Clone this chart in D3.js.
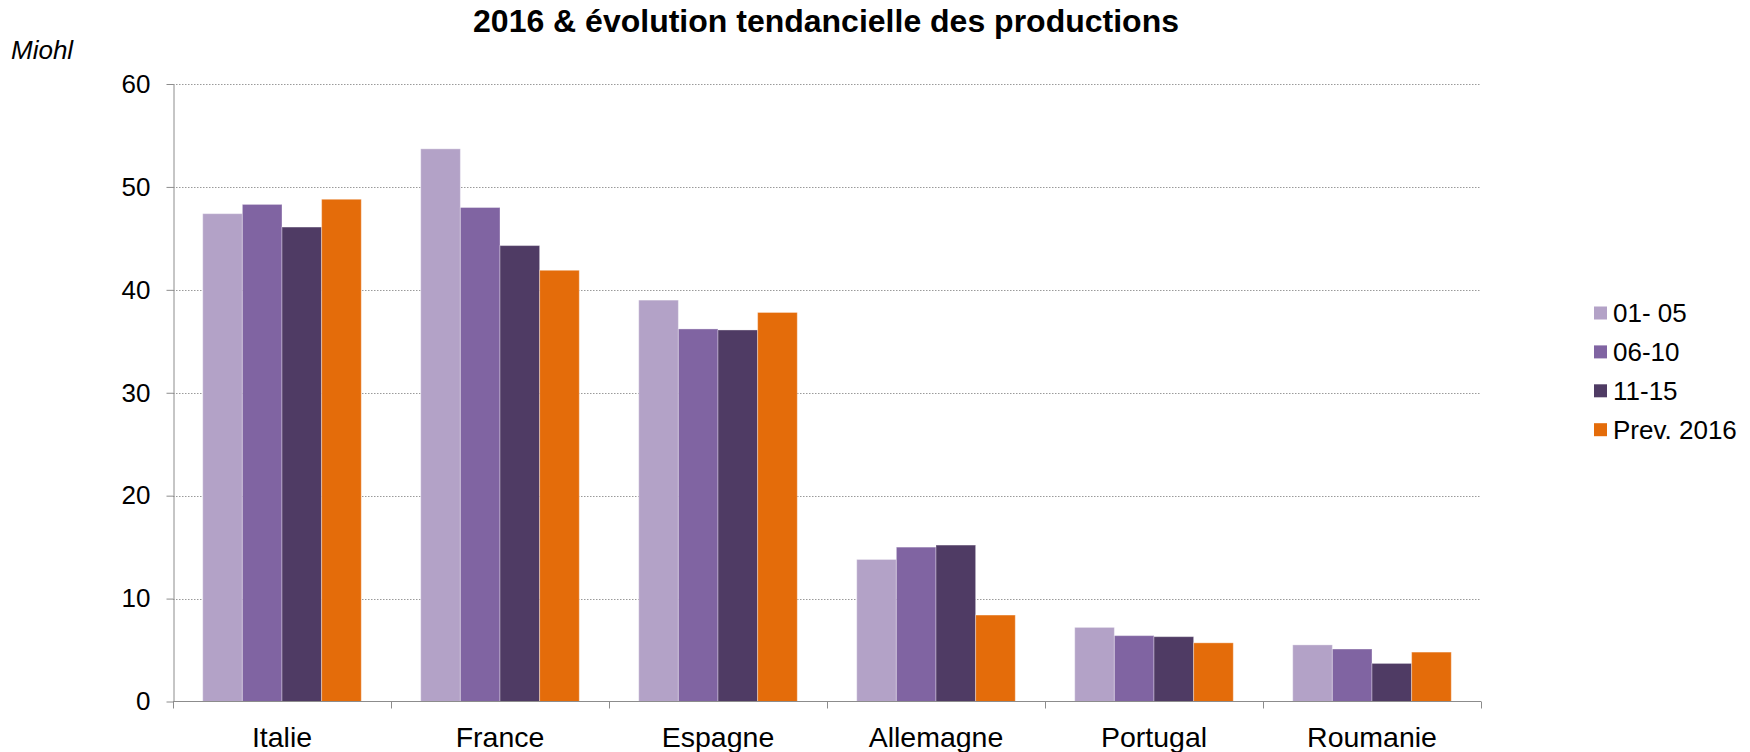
<!DOCTYPE html>
<html>
<head>
<meta charset="utf-8">
<script src="https://cdn.jsdelivr.net/npm/d3@7"></script>
<style>
  body { margin: 0; background: #fff; }
  text { font-family: "Liberation Sans", Arial, sans-serif; fill: #000; }
  .grid line { stroke: #9a9a9a; stroke-dasharray: 1.5,1.5; }
  .axis path, .axis line { stroke: #8c8c8c; }
</style>
</head>
<body>
<div id="graphic"></div>
<script>
const width = 1750;
const height = 752;

// data
const countries = ['Italie', 'France', 'Espagne', 'Allemagne', 'Portugal', 'Roumanie'];
const seriesNames = ['01- 05', '06-10', '11-15', 'Prev. 2016'];
const s0105 = [47.4, 53.7, 39.0, 13.8, 7.2, 5.5];
const s0610 = [48.3, 48.0, 36.2, 15.0, 6.4, 5.1];
const s1115 = [46.1, 44.3, 36.1, 15.2, 6.3, 3.7];
const prev2016 = [48.8, 41.9, 37.8, 8.4, 5.7, 4.8];
const yTicks = [0, 10, 20, 30, 40, 50, 60];
const colors = ['#b3a2c7', '#8064a2', '#4f3b64', '#e46c0a'];

const allSeries = [s0105, s0610, s1115, prev2016];

const svg = d3.select('#graphic')
  .append('svg')
  .attr('width', width)
  .attr('height', height);

const plotLeft = 173, plotRight = 1481, plotTop = 84, plotBottom = 701.5;

const scaleY = d3.scaleLinear()
  .domain([0, 60])
  .range([plotBottom, plotTop]);

const scaleX = d3.scaleBand()
  .domain(countries)
  .range([plotLeft, plotRight])
  .padding(0);

const scaleInner = d3.scaleBand()
  .domain(seriesNames)
  .range([0, scaleX.bandwidth()])
  .paddingInner(0)
  .paddingOuter(0.75);

// gridlines
svg.append('g')
  .attr('class', 'grid')
  .selectAll('line')
  .data(yTicks.filter(d => d > 0))
  .enter()
  .append('line')
  .attr('x1', plotLeft)
  .attr('x2', plotRight)
  .attr('y1', d => Math.round(scaleY(d)) + 0.5)
  .attr('y2', d => Math.round(scaleY(d)) + 0.5);

// bars
const groups = svg.selectAll('g.country')
  .data(countries)
  .enter()
  .append('g')
  .attr('class', 'country')
  .attr('transform', d => `translate(${scaleX(d)},0)`);

groups.selectAll('rect')
  .data((c, i) => seriesNames.map((s, j) => ({ s: s, v: allSeries[j][i], j: j })))
  .enter()
  .append('rect')
  .attr('x', d => scaleInner(d.s))
  .attr('y', d => scaleY(d.v))
  .attr('width', scaleInner.bandwidth())
  .attr('height', d => plotBottom - scaleY(d.v))
  .attr('fill', d => colors[d.j])
  .attr('stroke', 'rgba(255,255,255,0.35)')
  .attr('stroke-width', 1);

// axes
const axisY = d3.axisLeft(scaleY)
  .tickValues(yTicks)
  .tickSize(7)
  .tickPadding(16)
  .tickSizeOuter(0);

svg.append('g')
  .attr('class', 'axis')
  .attr('transform', `translate(${plotLeft + 0.5},0)`)
  .call(axisY)
  .selectAll('text')
  .style('font-size', '26px');

const boundaries = countries.map(c => scaleX(c)).concat([plotRight]);

const xAxis = svg.append('g').attr('class', 'axis');
xAxis.append('line')
  .attr('x1', plotLeft)
  .attr('x2', plotRight)
  .attr('y1', plotBottom)
  .attr('y2', plotBottom);
xAxis.selectAll('line.tick')
  .data(boundaries)
  .enter()
  .append('line')
  .attr('class', 'tick')
  .attr('x1', d => Math.round(d) + 0.5)
  .attr('x2', d => Math.round(d) + 0.5)
  .attr('y1', plotBottom)
  .attr('y2', plotBottom + 7);
xAxis.selectAll('text')
  .data(countries)
  .enter()
  .append('text')
  .attr('x', d => scaleX(d) + scaleX.bandwidth() / 2)
  .attr('y', 747)
  .attr('text-anchor', 'middle')
  .style('font-size', '28.5px')
  .text(d => d);

// title
svg.append('text')
  .attr('x', 826)
  .attr('y', 32)
  .attr('text-anchor', 'middle')
  .style('font-size', '32px')
  .style('font-weight', 'bold')
  .text('2016 & évolution tendancielle des productions');

svg.append('text')
  .attr('x', 11)
  .attr('y', 59)
  .style('font-size', '26px')
  .style('font-style', 'italic')
  .text('Miohl');

// legend
const legend = svg.selectAll('g.legend')
  .data(seriesNames)
  .enter()
  .append('g')
  .attr('class', 'legend')
  .attr('transform', (d, i) => `translate(1594,${313 + i * 38.9})`);

legend.append('rect')
  .attr('x', 0)
  .attr('y', -6.5)
  .attr('width', 13)
  .attr('height', 13)
  .attr('fill', (d, i) => colors[i]);

legend.append('text')
  .attr('x', 19)
  .attr('y', 9.3)
  .style('font-size', '26px')
  .text(d => d);
</script>
</body>
</html>
